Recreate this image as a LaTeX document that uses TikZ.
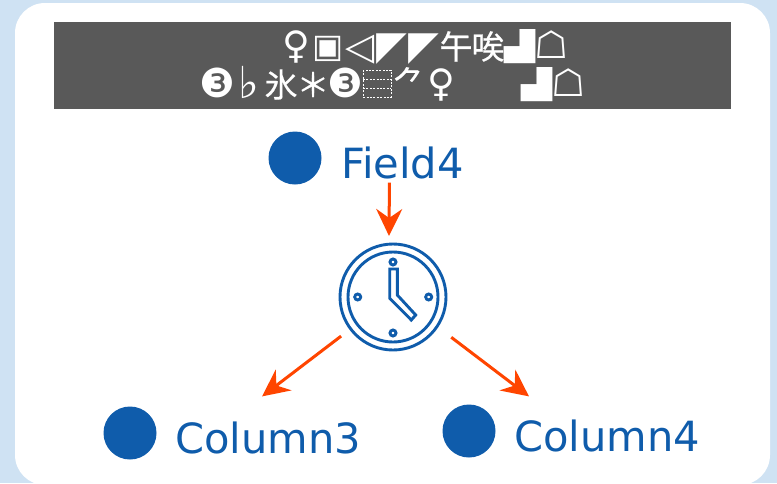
\documentclass[tikz,border=0pt]{standalone}
\usepackage{fontspec}
\usepackage{graphicx}
\setmainfont{DejaVu Sans}
\newfontfamily\cjkf[FakeBold=0.5]{Noto Sans CJK JP}
\usetikzlibrary{arrows.meta}
\definecolor{pagebg}{HTML}{CFE2F3}
\definecolor{band}{HTML}{595959}
\definecolor{inkblue}{HTML}{0F5CAB}
\definecolor{flow}{HTML}{FF4500}
% cell of the header grid: size, raise, glyph
\newcommand{\gc}[3]{\makebox[32pt][c]{\raisebox{#2pt}{\fontsize{#1}{#1}\selectfont #3}}}
\newcommand{\gj}[3]{\makebox[32pt][c]{\raisebox{#2pt}{\fontsize{#1}{#1}\selectfont\cjkf #3}}}
\newcommand{\gs}[1]{\makebox[32pt][c]{\raisebox{1.5pt}{\scalebox{1.12}[0.8]{\fontsize{36}{36}\selectfont #1}}}}
\tikzset{
  dotmark/.style={circle,fill=inkblue,inner sep=0pt,minimum size=53pt},
  lab/.style={text=inkblue,font=\fontsize{41.6}{41.6}\selectfont,inner sep=0pt,anchor=base west},
  flowline/.style={draw=flow,line width=3pt,-{Stealth[length=27pt,width=26pt,inset=9pt]}},
  clockline/.style={draw=inkblue,line width=2.9pt},
  head/.style={text=white,inner sep=0pt,anchor=base}
}
\begin{document}
\begin{tikzpicture}[x=1pt,y=-1pt]
\useasboundingbox (0,0) rectangle (777,483);
\fill[pagebg] (0,0) rectangle (777,483);
\begin{scope}
\clip (0,0) rectangle (777,483);
\fill[white,rounded corners=30pt] (15,3) rectangle (770,485);
\end{scope}
\fill[band] (54,22) rectangle (731,109);
\node[head] (line1) at (424,58) {\gc{38}{0}{♀}\gc{33}{1}{▣}\gc{38}{-1}{◁}\gc{40}{-1}{◤}\gc{40}{-1}{◤}\gj{33}{-1}{午}\gj{33}{-1}{唉}\gs{▟}\gc{38}{0}{☖}};
\node[head] (line2) at (393,96) {\gc{40}{-1}{❸}\gc{44}{-2}{♭}\gj{33}{-1}{氷}\gj{33}{-1}{＊}\gc{40}{-1}{❸}\gc{30}{0}{}\gj{33}{1}{⺈}\gc{38}{0}{♀}\gc{30}{0}{}\gc{30}{0}{}\gs{▟}\gc{38}{0}{☖}};
\draw[white,line width=0.7pt,dash pattern=on 2pt off 1.4pt] (363,70) rectangle (391,97) (363,79) -- (391,79) (363,88) -- (391,88);
\node[dotmark] (d1) at (295,158) {};
\node[dotmark] (d2) at (130,433) {};
\node[dotmark] (d3) at (469,431) {};
\node[lab,outer ysep=4pt] (field) at (341,178) {Field4};
\node[lab,outer ysep=25pt] (col3) at (175,453) {Column3};
\node[lab,outer ysep=23pt] (col4) at (514,451) {Column4};
\node[circle,minimum size=106pt,inner sep=0pt,outer sep=12pt,clockline,draw] (clock) at (393,297) {};
\draw[clockline] (clock.center) circle[radius=45];
\draw[clockline] (393,262) circle[radius=3] (393,333) circle[radius=3] (357.7,297) circle[radius=3] (428.7,297) circle[radius=3];
\draw[clockline,line join=miter] (389.7,269) -- (397.3,269) -- (397.3,295) -- (415.7,315) -- (411.3,320) -- (389.7,298.3) -- cycle;
\draw[flowline] ([xshift=-13pt]field.south) -- ([shift={(-4,4)}]clock.north);
\draw[flowline] (clock.-143) -- ([xshift=-6pt]col3.north);
\draw[flowline] ([shift={(5,3)}]clock.-35) -- ([xshift=15pt]col4.north west);
\end{tikzpicture}
\end{document}
